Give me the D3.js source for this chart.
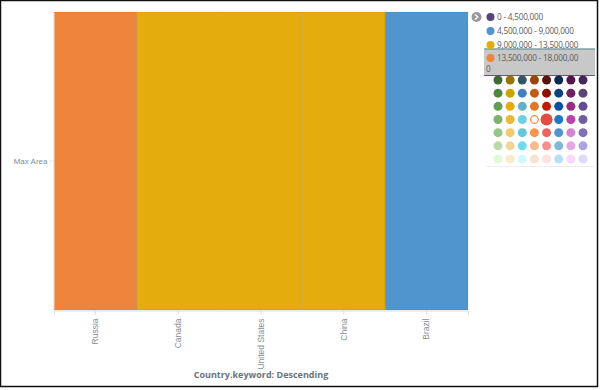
<!DOCTYPE html>
<html>
<head>
<meta charset="utf-8">
<script src="https://cdn.jsdelivr.net/npm/d3@7"></script>
<style>
  body { margin: 0; background: #fff; }
  svg { display: block; font-family: "Open Sans", sans-serif; }
</style>
</head>
<body>
<svg id="chart" width="600" height="390"></svg>
<script>
// ---- data ----
const countries = ["Russia", "Canada", "United States", "China", "Brazil"];
const maxArea = [17098242, 9984670, 9833517, 9596961, 8515767];
const rowLabels = ["Max Area"];
const thresholds = [4500000, 9000000, 13500000];
const rangeColors = ["#584477", "#5195CE", "#E5AC0E", "#EF843C"];
const legendLabels = ["0 - 4,500,000", "4,500,000 - 9,000,000", "9,000,000 - 13,500,000", "13,500,000 - 18,000,000"];
const pickerColors = [
  ["#3F6833", "#967302", "#2F575E", "#99440A", "#58140C", "#052B51", "#511749", "#3F2B5B"],
  ["#508642", "#CCA300", "#447EBC", "#C15C17", "#890F02", "#0A437C", "#6D1F62", "#584477"],
  ["#629E51", "#E5AC0E", "#64B0C8", "#E0752D", "#BF1B00", "#0A50A1", "#962D82", "#614D93"],
  ["#7EB26D", "#EAB839", "#6ED0E0", "#EF843C", "#E24D42", "#1F78C1", "#BA43A9", "#705DA0"],
  ["#9AC48A", "#F2C96D", "#65C5DB", "#F9934E", "#EA6460", "#5195CE", "#D683CE", "#806EB7"],
  ["#B7DBAB", "#F4D598", "#70DBED", "#F9BA8F", "#F29191", "#82B5D8", "#E5A8E2", "#AEA2E0"],
  ["#E0F9D7", "#FCEACA", "#CFFAFF", "#F9E2D2", "#FCE2DE", "#BADFF4", "#F9D9F9", "#DEDAF7"]
];
const xTitle = "Country.keyword: Descending";

// ---- chart ----
const svg = d3.select("#chart");
svg.append("rect").attr("x", 0.5).attr("y", 0.5).attr("width", 597).attr("height", 386)
  .attr("fill", "#fff").attr("stroke", "#111").attr("stroke-width", 1.5);

const x = d3.scaleBand().domain(countries).range([54, 468]).padding(0);
const y = d3.scaleBand().domain(rowLabels).range([12, 310]).padding(0);
const color = d3.scaleThreshold().domain(thresholds).range(rangeColors);

const cells = countries.map((c, i) => ({ country: c, row: rowLabels[0], value: maxArea[i] }));
svg.append("g").selectAll("rect").data(cells).join("rect")
  .attr("x", d => x(d.country))
  .attr("y", d => y(d.row))
  .attr("width", x.bandwidth())
  .attr("height", y.bandwidth())
  .attr("fill", d => color(d.value))
  .attr("stroke", "rgba(0,0,0,0.07)")
  .attr("stroke-width", 1);

// x axis
const xAxis = svg.append("g").attr("transform", "translate(0,310.5)")
  .call(d3.axisBottom(x).tickSize(4).tickSizeOuter(4).tickPadding(5));
xAxis.select(".domain").attr("stroke", "#ddd");
xAxis.selectAll(".tick line").attr("stroke", "#ddd");
xAxis.selectAll(".tick text")
  .attr("fill", "#848e96").attr("font-size", 8.5)
  .attr("transform", "rotate(-90)")
  .attr("text-anchor", "end")
  .attr("x", -8).attr("y", 0).attr("dy", "0.32em");

// y axis
const yAxis = svg.append("g").attr("transform", "translate(53.5,0)")
  .call(d3.axisLeft(y).tickSize(4).tickSizeOuter(0).tickPadding(2));
yAxis.select(".domain").attr("stroke", "#e4e4e4");
yAxis.selectAll(".tick line").attr("stroke", "#e4e4e4");
yAxis.selectAll(".tick text").attr("fill", "#848e96").attr("font-size", 8);

svg.append("text").attr("x", 261).attr("y", 378).attr("text-anchor", "middle")
  .attr("font-size", 9).attr("font-weight", "bold").attr("fill", "#6a737d").text(xTitle);

// ---- legend ----
const lg = svg.append("g");
lg.append("circle").attr("cx", 476.5).attr("cy", 17).attr("r", 5).attr("fill", "#999");
lg.append("path").attr("d", "M475,14.5 L477.8,17 L475,19.5").attr("fill", "none")
  .attr("stroke", "#fff").attr("stroke-width", 1.4);

// highlight box for the selected item
lg.append("rect").attr("x", 484).attr("y", 49.5).attr("width", 111).attr("height", 25.5)
  .attr("fill", "#c8c8c8");
lg.append("line").attr("x1", 484).attr("x2", 595).attr("y1", 49).attr("y2", 49)
  .attr("stroke", "#3e6f78").attr("stroke-width", 1);
lg.append("line").attr("x1", 484).attr("x2", 595).attr("y1", 75.5).attr("y2", 75.5)
  .attr("stroke", "#3e6f78").attr("stroke-width", 1);

const itemY = [17, 31, 45, 58];
const legendFont = 8.2, legendSpacing = -0.2;
legendLabels.forEach((lab, i) => {
  lg.append("circle").attr("cx", 490.5).attr("cy", itemY[i]).attr("r", 4)
    .attr("fill", rangeColors[i]);
  const t = (txt, tx, ty) => lg.append("text").attr("x", tx).attr("y", ty).attr("dy", "0.35em")
      .attr("font-size", legendFont).attr("letter-spacing", legendSpacing)
      .attr("fill", "#5a5a5a").text(txt);
  if (i < 3) {
    t(lab, 497, itemY[i]);
  } else {
    t(lab.slice(0, -1), 497, itemY[i]);
    t(lab.slice(-1), 486, itemY[i] + 11);
  }
});

// colour picker
const px = d3.scalePoint().domain(d3.range(8)).range([498, 583]);
const py = d3.scalePoint().domain(d3.range(7)).range([80, 159]);
pickerColors.forEach((row, r) => {
  row.forEach((c, k) => {
    const selected = r === 3 && k === 3;
    const hovered = r === 3 && k === 4;
    lg.append("circle").attr("cx", px(k)).attr("cy", py(r))
      .attr("r", hovered ? 6 : (selected ? 3.8 : 4.5))
      .attr("fill", selected ? "#fff" : c)
      .attr("stroke", selected ? c : "none")
      .attr("stroke-width", selected ? 1.2 : 0);
  });
});
lg.append("line").attr("x1", 486).attr("x2", 594).attr("y1", 166.5).attr("y2", 166.5)
  .attr("stroke", "#eee").attr("stroke-width", 1);
</script>
</body>
</html>
